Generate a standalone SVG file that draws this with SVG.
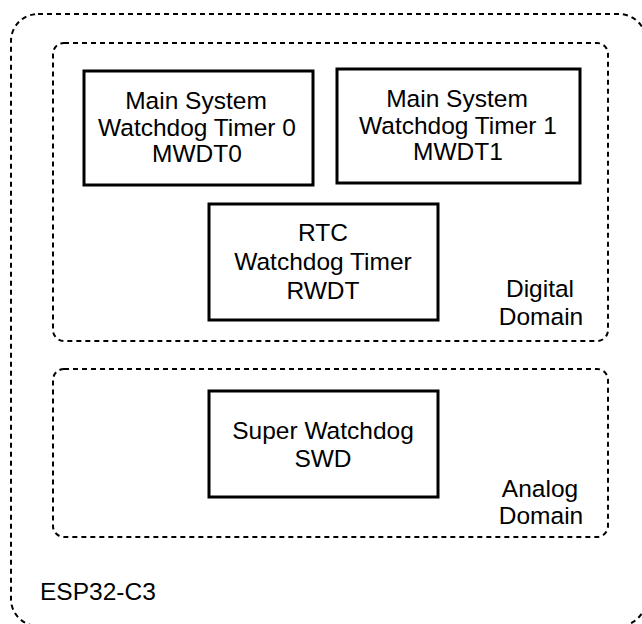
<svg xmlns="http://www.w3.org/2000/svg" width="642" height="624" viewBox="0 0 642 624">
<style>
.dash{fill:none;stroke:#000;stroke-width:2;stroke-dasharray:5 4}
.box{fill:#fff;stroke:#000;stroke-width:3}
text{font-family:"Liberation Sans",Arial,Helvetica,sans-serif;font-size:24.5px;fill:#000;text-anchor:middle}
</style>
<rect width="642" height="624" fill="#fff"/>
<g id="esp32c3">
<rect class="dash" x="11" y="14" width="635" height="612" rx="27"/>
<text x="40" y="600" style="text-anchor:start">ESP32-C3</text>
</g>
<g id="digital-domain">
<rect class="dash" x="53" y="43" width="555" height="298" rx="11"/>
<text x="540" y="297">Digital</text>
<text x="541" y="324.5">Domain</text>
</g>
<g id="analog-domain">
<rect class="dash" x="53" y="369" width="555" height="168" rx="11"/>
<text x="540" y="497">Analog</text>
<text x="541" y="524">Domain</text>
</g>
<g id="mwdt0">
<rect class="box" x="84" y="71" width="229" height="114"/>
<text x="196" y="109">Main System</text>
<text x="197" y="135.5">Watchdog Timer 0</text>
<text x="197" y="162">MWDT0</text>
</g>
<g id="mwdt1">
<rect class="box" x="337" y="69" width="243" height="114"/>
<text x="457" y="107">Main System</text>
<text x="458" y="133.5">Watchdog Timer 1</text>
<text x="458" y="160">MWDT1</text>
</g>
<g id="rwdt">
<rect class="box" x="209" y="204" width="229" height="116"/>
<text x="323" y="241">RTC</text>
<text x="323" y="270">Watchdog Timer</text>
<text x="323" y="299">RWDT</text>
</g>
<g id="swd">
<rect class="box" x="209" y="391" width="229" height="106"/>
<text x="323" y="439">Super Watchdog</text>
<text x="323" y="467">SWD</text>
</g>
<g id="connectors"></g>
</svg>
